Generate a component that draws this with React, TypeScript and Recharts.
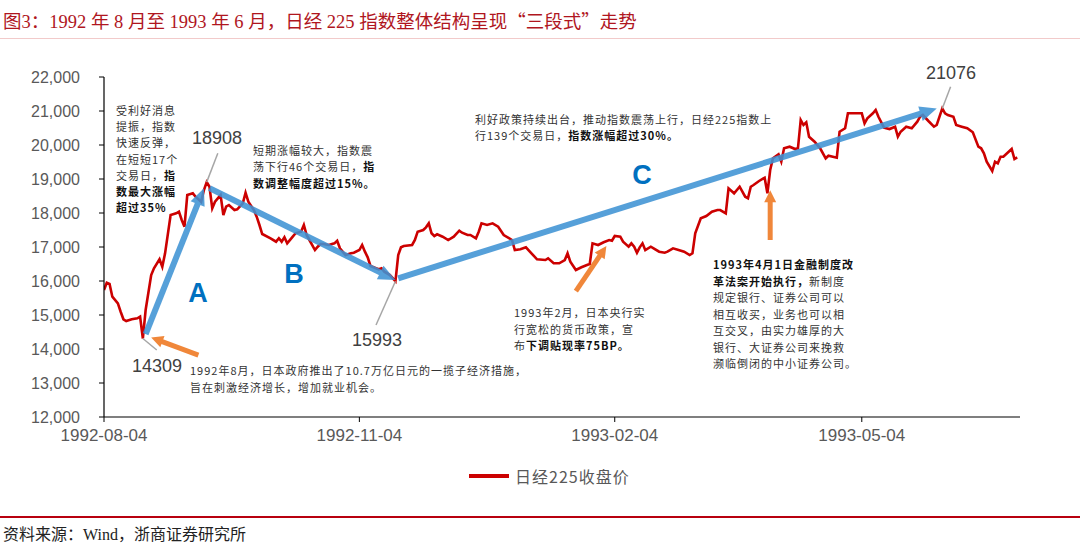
import React from 'react';
import { LineChart, Line, XAxis, YAxis, ReferenceLine, Legend } from 'recharts';

const dates = [
  '1992-08-04','1992-08-05','1992-08-06','1992-08-07','1992-08-09','1992-08-10','1992-08-11','1992-08-12','1992-08-14','1992-08-16','1992-08-17','1992-08-18','1992-08-19','1992-08-21','1992-08-22','1992-08-24','1992-08-25','1992-08-26','1992-08-28','1992-08-30','1992-08-31',
  '1992-09-01','1992-09-02','1992-09-03','1992-09-05','1992-09-06','1992-09-08','1992-09-09','1992-09-10','1992-09-11','1992-09-12','1992-09-13','1992-09-14','1992-09-15','1992-09-16','1992-09-17','1992-09-18','1992-09-20','1992-09-21','1992-09-23','1992-09-24','1992-09-25','1992-09-27','1992-09-28','1992-09-29','1992-09-30',
  '1992-10-03','1992-10-05','1992-10-06','1992-10-07','1992-10-08','1992-10-09','1992-10-11','1992-10-12','1992-10-14','1992-10-15','1992-10-16','1992-10-17','1992-10-19','1992-10-20','1992-10-21','1992-10-22','1992-10-24','1992-10-26','1992-10-27','1992-10-28','1992-10-30',
  '1992-11-01','1992-11-02','1992-11-04','1992-11-05','1992-11-06','1992-11-07','1992-11-08','1992-11-10','1992-11-11','1992-11-12','1992-11-13','1992-11-15','1992-11-17','1992-11-18','1992-11-19','1992-11-20','1992-11-23','1992-11-24','1992-11-25','1992-11-27','1992-11-28','1992-11-29','1992-11-30',
  '1992-12-01','1992-12-02','1992-12-04','1992-12-06','1992-12-08','1992-12-10','1992-12-11','1992-12-13','1992-12-14','1992-12-16','1992-12-17','1992-12-18','1992-12-20','1992-12-22','1992-12-24','1992-12-26','1992-12-29','1992-12-30',
  '1993-01-01','1993-01-03','1993-01-05','1993-01-07','1993-01-10','1993-01-11','1993-01-13','1993-01-15','1993-01-17','1993-01-18','1993-01-19','1993-01-21','1993-01-23','1993-01-25','1993-01-26','1993-01-27','1993-01-29','1993-01-31',
  '1993-02-02','1993-02-03','1993-02-04','1993-02-06','1993-02-07','1993-02-09','1993-02-10','1993-02-11','1993-02-12','1993-02-13','1993-02-14','1993-02-15','1993-02-17','1993-02-18','1993-02-20','1993-02-22','1993-02-23','1993-02-25','1993-02-27',
  '1993-03-01','1993-03-03','1993-03-04','1993-03-05','1993-03-07','1993-03-09','1993-03-11','1993-03-13','1993-03-14','1993-03-16','1993-03-17','1993-03-19','1993-03-21','1993-03-23','1993-03-24','1993-03-25','1993-03-26','1993-03-28','1993-03-30','1993-03-31',
  '1993-04-01','1993-04-02','1993-04-04','1993-04-05','1993-04-06','1993-04-08','1993-04-10','1993-04-11','1993-04-12','1993-04-13','1993-04-14','1993-04-15','1993-04-17','1993-04-19','1993-04-21','1993-04-22','1993-04-25','1993-04-26','1993-04-28','1993-04-29',
  '1993-05-01','1993-05-04','1993-05-05','1993-05-06','1993-05-08','1993-05-09','1993-05-10','1993-05-12','1993-05-14','1993-05-16','1993-05-17','1993-05-18','1993-05-20','1993-05-22','1993-05-24','1993-05-25','1993-05-26','1993-05-28','1993-05-30','1993-05-31',
  '1993-06-02','1993-06-03','1993-06-04','1993-06-06','1993-06-07','1993-06-09','1993-06-11','1993-06-13','1993-06-15','1993-06-16','1993-06-17','1993-06-18','1993-06-20','1993-06-21','1993-06-22','1993-06-23','1993-06-24','1993-06-27','1993-06-28','1993-06-29',
];

const closes = [
  15735,15950,15912,15538,15344,15097,14873,14823,14873,14903,14950,14309,15147,16176,16373,16638,16420,16814,17941,17991,18038,
  17794,17597,18529,18579,18479,18332,18676,18908,18773,18138,18332,18432,18529,17941,18185,18235,18088,18108,18285,18597,18332,18088,17891,17647,17382,
  17256,17156,17256,17156,17285,17108,17303,17403,17450,17647,17353,17206,16911,17009,17088,17088,17059,17108,17185,16962,16764,
  16814,16832,16911,17059,16862,16697,16441,16373,16344,16373,16273,16176,15993,16764,16991,17029,17059,17206,17450,17500,17579,17697,17403,
  17323,17373,17303,17206,17303,17479,17420,17353,17353,17256,17450,17697,17647,17697,17597,17353,17206,16911,
  16932,16991,16814,16638,16617,16667,16520,16520,16617,16814,16567,16323,16403,16470,16500,17108,17059,17138,
  17206,17185,17323,17303,17156,17009,17108,17009,16832,16991,17108,16911,17009,16962,16862,16832,16862,16962,16911,
  16862,16764,16814,17403,17844,17911,18038,18088,18088,17991,18726,18579,18773,18479,18432,18773,18823,18941,19038,18579,
  19264,19609,19726,19509,19903,19950,19882,19903,20735,20588,20667,20244,20097,19903,19609,19685,19626,20391,20491,20932,
  20932,20932,20638,20785,20932,21029,20832,20509,20470,20538,20244,20391,20538,20491,20685,20832,20882,20706,20538,20588,
  21076,20932,20882,20832,20588,20538,20491,20373,19950,19903,19755,19509,19235,19509,19461,19656,19656,19882,19588,19638,
];

const seriesName = '日经225收盘价';
const xTickLabels = ['1992-08-04', '1992-11-04', '1993-02-04', '1993-05-04'];
const xDomainLabels = ['1992-08-04', '1993-06-30'];
const yTicks = [12000, 13000, 14000, 15000, 16000, 17000, 18000, 19000, 20000, 21000, 22000];

// stage trend arrows (blue): [startDate, startValue, endDate, endValue]
const stageArrows: [string, number, string, number][] = [
  ['1992-08-19', 14440, '1992-09-09', 18730],
  ['1992-09-11', 18730, '1992-11-17', 16030],
  ['1992-11-18', 16080, '1993-05-31', 21070],
];
// event arrows (orange)
const eventArrows: [string, number, string, number][] = [
  ['1992-09-07', 13820, '1992-08-21', 14340],
  ['1993-01-21', 15700, '1993-02-01', 17030],
  ['1993-04-01', 17206, '1993-04-01', 18670],
];
// leader lines for extreme-value labels
const leaderLines: [string, number, string, number][] = [
  ['1992-08-18', 14309, '1992-08-23', 13970],
  ['1992-09-10', 18908, '1992-09-14', 19760],
  ['1992-11-17', 15993, '1992-11-10', 14706],
  ['1993-06-02', 21076, '1993-06-05', 21714],
];

const dayNum = (s: string) => {
  const [y, m, d] = s.split('-').map(Number);
  return Date.UTC(y, m - 1, d) / 86400000;
};
const fmtDay = (n: number) => new Date(Math.round(n) * 86400000).toISOString().slice(0, 10);

const data = dates.map((d, i) => ({ t: dayNum(d), v: closes[i] }));
const xTicks = xTickLabels.map(dayNum);
const xDomain = xDomainLabels.map(dayNum);

const makeArrow = (color: string, width: number, headLen: number, headW: number, opacity: number) => (props: any) => {
  const { x1, y1, x2, y2 } = props;
  const dx = x2 - x1;
  const dy = y2 - y1;
  const len = Math.hypot(dx, dy) || 1;
  const ux = dx / len;
  const uy = dy / len;
  const bx = x2 - ux * headLen;
  const by = y2 - uy * headLen;
  const px = -uy;
  const py = ux;
  return (
    <g opacity={opacity}>
      <line x1={x1} y1={y1} x2={bx + ux} y2={by + uy} stroke={color} strokeWidth={width} />
      <polygon
        points={`${x2},${y2} ${bx + (px * headW) / 2},${by + (py * headW) / 2} ${bx - (px * headW) / 2},${by - (py * headW) / 2}`}
        fill={color}
      />
    </g>
  );
};

const blueArrow = makeArrow('#3F93D4', 6, 17, 15, 0.88);
const orangeArrow = makeArrow('#F0873A', 5, 12, 12, 1);

const noteFont = "'Noto Sans CJK SC', 'Noto Sans', sans-serif";
const cjk = "'Noto Sans CJK SC', sans-serif";

const Note = ({ left, top, lh, lines }: { left: number; top: number; lh: number; lines: React.ReactNode[] }) => (
  <div
    style={{
      position: 'absolute',
      left,
      top,
      fontFamily: noteFont,
      fontSize: 11,
      letterSpacing: 1,
      lineHeight: `${lh}px`,
      color: '#333',
      whiteSpace: 'nowrap',
    }}
  >
    {lines.map((l, i) => (
      <div key={i}>{l}</div>
    ))}
  </div>
);

const B = ({ children }: { children: React.ReactNode }) => (
  <span style={{ fontWeight: 700, color: '#111' }}>{children}</span>
);

const ValueLabel = ({ x, y, text }: { x: number; y: number; text: string }) => (
  <div
    style={{
      position: 'absolute',
      left: x,
      top: y,
      transform: 'translate(-50%, -50%)',
      fontFamily: "'Liberation Sans', Arial, sans-serif",
      fontSize: 18,
      color: '#404040',
      lineHeight: 1,
    }}
  >
    {text}
  </div>
);

const StageLabel = ({ x, y, text }: { x: number; y: number; text: string }) => (
  <div
    style={{
      position: 'absolute',
      left: x,
      top: y,
      transform: 'translate(-50%, -50%)',
      fontFamily: "'Liberation Sans', Arial, sans-serif",
      fontWeight: 700,
      fontSize: 27,
      color: '#0070C0',
      lineHeight: 1,
    }}
  >
    {text}
  </div>
);

const LegendContent = (props: any) => {
  const name = props?.payload?.[0]?.value ?? seriesName;
  return (
    <div style={{ display: 'flex', alignItems: 'center', height: 20 }}>
      <div style={{ width: 40, height: 4, background: '#CC0000', marginRight: 6 }} />
      <span
        style={{
          fontFamily: noteFont,
          fontSize: 16,
          letterSpacing: 1,
          color: '#595959',
        }}
      >
        {name}
      </span>
    </div>
  );
};

export default function App() {
  return (
    <div
      style={{
        position: 'absolute',
        left: 0,
        top: 0,
        width: 1080,
        height: 556,
        background: '#fff',
        overflow: 'hidden',
      }}
    >
      <div
        style={{
          position: 'absolute',
          left: 3,
          top: 8,
          fontFamily: "'Liberation Serif', 'Noto Sans CJK SC', serif",
          fontSize: 18.5,
          lineHeight: '24px',
          color: '#B0161E',
          whiteSpace: 'nowrap',
        }}
      >
        图3：1992 年 8 月至 1993 年 6 月，日经 225 指数整体结构呈现
        <span style={{ fontFamily: cjk }}>“</span>三段式<span style={{ fontFamily: cjk }}>”</span>走势
      </div>
      <div style={{ position: 'absolute', left: 0, top: 38, width: 1080, height: 1, background: '#F2CACA' }} />

      <div style={{ position: 'absolute', left: 0, top: 0 }}>
        <LineChart width={1080} height={556} data={data} margin={{ top: 77, right: 60, left: 0, bottom: 109 }}>
          <XAxis
            type="number"
            dataKey="t"
            domain={xDomain}
            ticks={xTicks}
            tickFormatter={fmtDay}
            allowDataOverflow
            interval={0}
            height={30}
            tickSize={5}
            tickMargin={7}
            axisLine={{ stroke: '#000', strokeWidth: 1.2 }}
            tickLine={{ stroke: '#000' }}
            tick={{ fill: '#595959', fontSize: 17, fontFamily: "'Liberation Sans', Arial, sans-serif" }}
          />
          <YAxis
            type="number"
            domain={[12000, 22000]}
            ticks={yTicks}
            interval={0}
            width={104}
            tickSize={5}
            tickMargin={19}
            tickFormatter={(v: number) => v.toLocaleString('en-US')}
            axisLine={{ stroke: '#000', strokeWidth: 1.2 }}
            tickLine={{ stroke: '#000' }}
            tick={{ fill: '#595959', fontSize: 16, fontFamily: "'Liberation Sans', Arial, sans-serif" }}
          />
          <Legend
            layout="horizontal"
            verticalAlign="middle"
            align="center"
            wrapperStyle={{ top: 466, left: 469, width: 200, height: 20 }}
            content={<LegendContent />}
          />
          <Line
            type="linear"
            dataKey="v"
            name={seriesName}
            stroke="#CC0000"
            strokeWidth={2.6}
            dot={false}
            activeDot={false}
            isAnimationActive={false}
          />
          {leaderLines.map((s, i) => (
            <ReferenceLine
              key={`l${i}`}
              segment={[
                { x: dayNum(s[0]), y: s[1] },
                { x: dayNum(s[2]), y: s[3] },
              ]}
              stroke="#A6A6A6"
              strokeWidth={1.5}
              ifOverflow="visible"
            />
          ))}
          {stageArrows.map((s, i) => (
            <ReferenceLine
              key={`b${i}`}
              segment={[
                { x: dayNum(s[0]), y: s[1] },
                { x: dayNum(s[2]), y: s[3] },
              ]}
              ifOverflow="visible"
              shape={blueArrow}
            />
          ))}
          {eventArrows.map((s, i) => (
            <ReferenceLine
              key={`o${i}`}
              segment={[
                { x: dayNum(s[0]), y: s[1] },
                { x: dayNum(s[2]), y: s[3] },
              ]}
              ifOverflow="visible"
              shape={orangeArrow}
            />
          ))}
        </LineChart>
      </div>

      <ValueLabel x={157} y={366} text="14309" />
      <ValueLabel x={217} y={138} text="18908" />
      <ValueLabel x={377} y={340} text="15993" />
      <ValueLabel x={951} y={73} text="21076" />

      <StageLabel x={198} y={293} text="A" />
      <StageLabel x={294} y={274} text="B" />
      <StageLabel x={642} y={175} text="C" />

      <Note
        left={116}
        top={102}
        lh={16.2}
        lines={[
          '受利好消息',
          '提振，指数',
          '快速反弹，',
          '在短短17个',
          <>交易日，<B>指</B></>,
          <B>数最大涨幅</B>,
          <B>超过35%</B>,
        ]}
      />
      <Note
        left={253}
        top={142}
        lh={16.4}
        lines={[
          '短期涨幅较大，指数震',
          <>荡下行46个交易日，<B>指</B></>,
          <B>数调整幅度超过15%。</B>,
        ]}
      />
      <Note
        left={475}
        top={112}
        lh={15.8}
        lines={[
          '利好政策持续出台，推动指数震荡上行，日经225指数上',
          <>行139个交易日，<B>指数涨幅超过30%。</B></>,
        ]}
      />
      <Note
        left={190}
        top={362}
        lh={16.7}
        lines={['1992年8月，日本政府推出了10.7万亿日元的一揽子经济措施，', '旨在刺激经济增长，增加就业机会。']}
      />
      <Note
        left={514}
        top={304}
        lh={16.7}
        lines={['1993年2月，日本央行实', '行宽松的货币政策，宣', <>布<B>下调贴现率75BP。</B></>]}
      />
      <Note
        left={713}
        top={256}
        lh={16.55}
        lines={[
          <B>1993年4月1日金融制度改</B>,
          <><B>革法案开始执行，</B>新制度</>,
          '规定银行、证券公司可以',
          '相互收买，业务也可以相',
          '互交叉，由实力雄厚的大',
          '银行、大证券公司来挽救',
          '濒临倒闭的中小证券公司。',
        ]}
      />

      <div style={{ position: 'absolute', left: 0, top: 516, width: 1080, height: 2, background: '#B8000F' }} />
      <div
        style={{
          position: 'absolute',
          left: 3,
          top: 525,
          fontFamily: "'Liberation Serif', 'Noto Sans CJK SC', serif",
          fontSize: 16,
          lineHeight: '20px',
          color: '#222',
          whiteSpace: 'nowrap',
        }}
      >
        资料来源：Wind，浙商证券研究所
      </div>
    </div>
  );
}
